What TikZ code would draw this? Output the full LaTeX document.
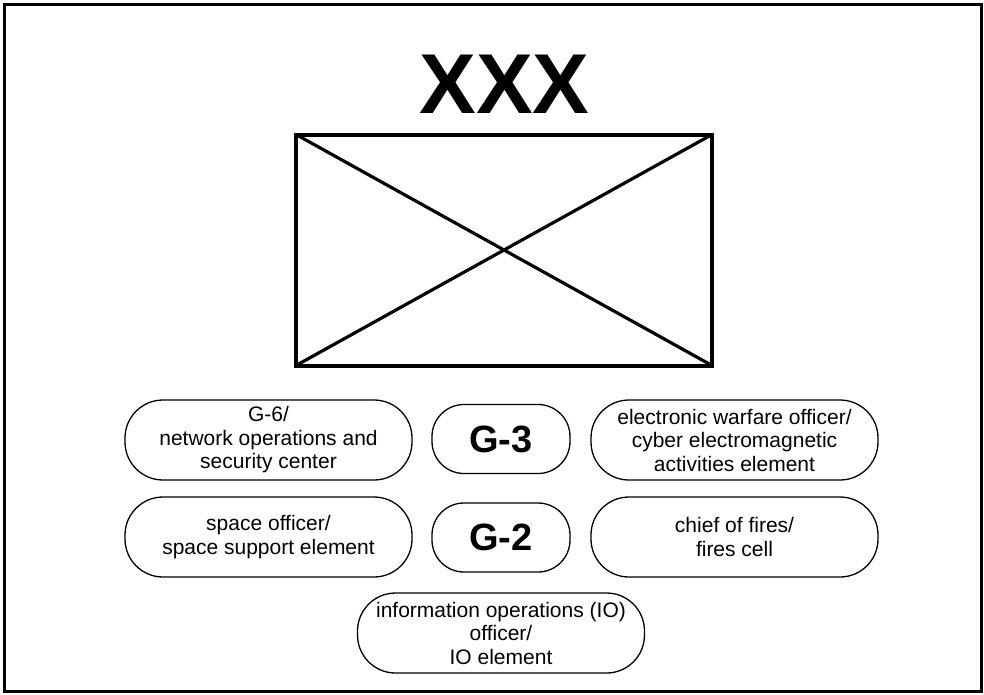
\documentclass[tikz,border=0pt]{standalone}
\usepackage{fontspec}
\setmainfont{Liberation Sans}
\begin{document}
\begin{tikzpicture}[x=1pt,y=-1pt,
  unitbox/.style={draw, line width=1.3pt, rounded corners=38pt, align=center,
    minimum width=287pt, minimum height=80pt, inner sep=0pt, outer sep=0pt,
    font=\fontsize{21}{23.5}\selectfont},
  gbox/.style={draw, line width=1.3pt, rounded corners=32pt, align=center,
    minimum width=138pt, minimum height=69pt, inner sep=0pt, outer sep=0pt,
    font=\fontsize{38}{40}\selectfont\bfseries},
  hqbox/.style={draw, line width=4pt, minimum width=416pt, minimum height=231pt,
    inner sep=0pt, outer sep=0pt},
  diag/.style={line width=3.2pt}]
\useasboundingbox (0,0) rectangle (984,694);
\draw[line width=3pt] (4,4) rectangle (981,691);
\node[anchor=base, font=\fontsize{85}{85}\selectfont\bfseries, inner sep=0pt] (echelon) at (504.5,113) {XXX};
\node[hqbox] (hq) at (504,250) {};
\draw[diag] (hq.north west) -- (hq.south east);
\draw[diag] (hq.south west) -- (hq.north east);
\node[unitbox] (g6) at (268.5,440) {G-6/\\network operations and\\security center};
\node[gbox] (g3) at (501,439) {G-3};
\node[unitbox] (ew) at (734.5,440) {electronic warfare officer/\\cyber electromagnetic\\activities element};
\node[unitbox] (space) at (268.5,537) {space officer/\\space support element};
\node[gbox] (g2) at (501,537.5) {G-2};
\node[unitbox] (fires) at (734.5,537) {chief of fires/\\fires cell};
\node[unitbox] (io) at (501,633) {information operations (IO)\\officer/\\IO element};
\end{tikzpicture}
\end{document}
